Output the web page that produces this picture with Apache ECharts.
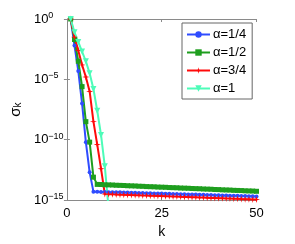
<!DOCTYPE html>
<html><head><meta charset="utf-8">
<script src="https://cdn.jsdelivr.net/npm/echarts@6/dist/echarts.min.js"></script>
<style>html,body{margin:0;padding:0;background:#fff}#c{width:295px;height:244px}</style>
</head><body><div id="c"></div>
<script>
// log10(sigma_k), k = 1..50
var kValues = [1,2,3,4,5,6,7,8,9,10,11,12,13,14,15,16,17,18,19,20,21,22,23,24,25,26,27,28,29,30,31,32,33,34,35,36,37,38,39,40,41,42,43,44,45,46,47,48,49,50];
var logA14 = [0,-2.2,-4.3,-7.0,-10.2,-12.7,-14.30,-14.31,-14.32,-14.33,-14.34,-14.35,-14.36,-14.36,-14.37,-14.38,-14.39,-14.40,-14.41,-14.42,-14.43,-14.44,-14.45,-14.45,-14.46,-14.47,-14.48,-14.49,-14.50,-14.51,-14.52,-14.53,-14.54,-14.54,-14.55,-14.56,-14.57,-14.58,-14.59,-14.60,-14.61,-14.62,-14.63,-14.64,-14.65,-14.66,-14.67,-14.68,-14.69,-14.70];
var logA12 = [0,-1.7,-3.5,-5.6,-8.5,-10.2,-13.1,-13.70,-13.71,-13.73,-13.74,-13.75,-13.77,-13.78,-13.79,-13.81,-13.82,-13.83,-13.85,-13.86,-13.88,-13.89,-13.90,-13.92,-13.93,-13.94,-13.96,-13.97,-13.98,-14.00,-14.01,-14.02,-14.04,-14.05,-14.06,-14.08,-14.09,-14.10,-14.12,-14.13,-14.15,-14.16,-14.17,-14.19,-14.20,-14.21,-14.23,-14.24,-14.25,-14.27];
var logA34 = [0,-1.5,-2.6,-3.8,-4.8,-6.0,-8.5,-10.4,-12.4,-14.50,-14.51,-14.52,-14.53,-14.55,-14.56,-14.57,-14.58,-14.59,-14.60,-14.61,-14.62,-14.64,-14.65,-14.66,-14.67,-14.68,-14.69,-14.70,-14.71,-14.73,-14.74,-14.75,-14.76,-14.77,-14.78,-14.79,-14.80,-14.82,-14.83,-14.84,-14.85,-14.86,-14.87,-14.88,-14.89,-14.91,-14.92,-14.93,-14.94,-14.95];
var logA1 = [0,-1.1,-1.9,-2.7,-3.5,-4.5,-5.8,-7.6,-9.6,-12.2,-15.7];
var seriesNames = ['α=1/4','α=1/2','α=3/4','α=1'];
var xTicks = [0,25,50];
var yTickExp = [0,-5,-10,-15];

function pairs(arr){ return arr.map(function(v,i){ return [kValues[i], Math.pow(10, v)]; }); }
var font = 'Liberation Sans, Arial, sans-serif';
var axisCol = '#8a8a8a';
var star = 'path://M5,0L6,4L10,5L6,6L5,10L4,6L0,5L4,4Z';

var chart = echarts.init(document.getElementById('c'), null, {renderer:'canvas'});
function mk(name, data, color, symbol, size, rot, clip){
  return {name:name, type:'line', data:pairs(data), xAxisIndex:0, yAxisIndex:0,
    symbol:symbol, symbolSize:size, symbolRotate:rot||0, showSymbol:true, clip:clip,
    lineStyle:{color:color, width:2}, itemStyle:{color:color}, animation:false, z:3};
}
var option = {
  animation:false,
  textStyle:{fontFamily:font},
  grid:{left:62, top:19, right:38.5, bottom:33, containLabel:false},
  legend:{orient:'vertical', left:182, top:23, width:70, padding:[5,6,4,4], itemGap:5,
    itemWidth:23, itemHeight:8, backgroundColor:'#fff', borderColor:'#666', borderWidth:1,
    textStyle:{fontFamily:font, fontSize:13, color:'#000', padding:[0,0,0,-2]},
    data:seriesNames},
  xAxis:[{type:'value', min:0, max:50, interval:25, position:'bottom',
    axisLine:{lineStyle:{color:axisCol}}, axisTick:{inside:true, length:3, lineStyle:{color:axisCol}},
    splitLine:{show:false},
    axisLabel:{margin:7, color:'#000', fontSize:13, fontFamily:font,
      formatter:function(v){ return xTicks.indexOf(v)>=0 ? String(v) : ''; }},
    name:'k', nameLocation:'middle', nameGap:23, nameTextStyle:{color:'#000', fontSize:14, fontFamily:font}},
   {type:'value', min:0, max:50, interval:25, position:'top',
    axisLine:{lineStyle:{color:axisCol}}, axisTick:{inside:true, length:3, lineStyle:{color:axisCol}},
    axisLabel:{show:false}, splitLine:{show:false}}],
  yAxis:[{type:'log', logBase:10, min:1e-15, max:1, interval:5, position:'left',
    axisLine:{show:true, lineStyle:{color:axisCol}}, axisTick:{show:true, inside:true, length:3, lineStyle:{color:axisCol}},
    splitLine:{show:false}, minorTick:{show:false},
    axisLabel:{margin:33, align:'left', color:'#000', fontFamily:font,
      formatter:function(v){ var e=Math.round(Math.log(v)/Math.LN10);
        if (yTickExp.indexOf(e)<0) return '';
        return '{b|10}{s|'+(e<0?'\u2212'+(-e):e)+'}'; },
      rich:{b:{fontSize:13, lineHeight:13, fontFamily:font, color:'#000'},
            s:{fontSize:9, lineHeight:9, padding:[0,0,7,0], fontFamily:font, color:'#000'}}},
    name:'{m|σ}{k|k}', nameLocation:'middle', nameGap:42, nameRotate:90,
    nameTextStyle:{rich:{m:{fontSize:15, lineHeight:15, fontFamily:font, color:'#000'},
                         k:{fontSize:10, lineHeight:10, fontFamily:font, color:'#000', padding:[5,0,0,0], verticalAlign:'top'}}}},
   {type:'log', logBase:10, min:1e-15, max:1, interval:5, position:'right',
    axisLine:{show:true, lineStyle:{color:axisCol}}, axisTick:{show:true, inside:true, length:3, lineStyle:{color:axisCol}},
    axisLabel:{show:false}, splitLine:{show:false}}],
  series:[
    mk(seriesNames[0], logA14, '#2f4cff', 'circle', 4, 0, false),
    mk(seriesNames[1], logA12, '#1e9e1e', 'rect', 5, 0, false),
    mk(seriesNames[2], logA34, '#ff0a0a', star, 7, 0, false),
    mk(seriesNames[3], logA1, '#4dfcb8', 'triangle', 6, 180, true)
  ]
};
chart.setOption(option);
</script></body></html>
